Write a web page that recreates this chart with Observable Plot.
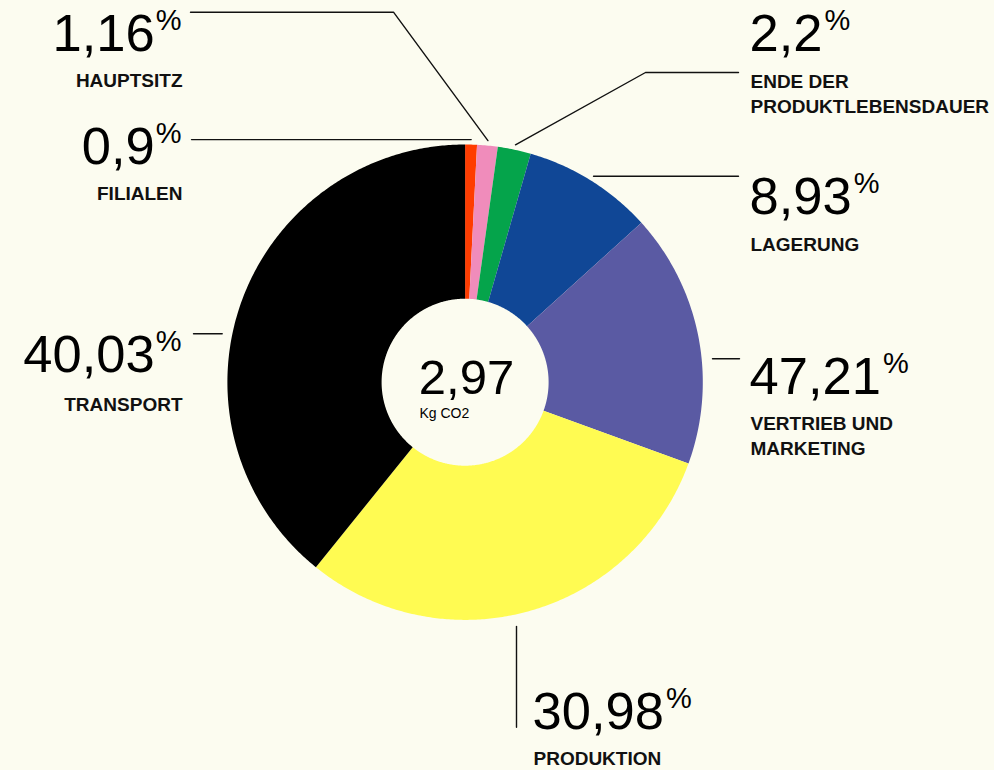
<!DOCTYPE html>
<html><head><meta charset="utf-8">
<script src="https://cdn.jsdelivr.net/npm/d3@7"></script>
<script src="https://cdn.jsdelivr.net/npm/@observablehq/plot@0.6"></script>
<style>
html,body{margin:0;padding:0;background:#FCFCF0;}
#chart{width:994px;height:770px;overflow:hidden;}
</style></head><body><div id="chart"></div>
<script>
// ---- data ----
const categories = ["Filialen","Hauptsitz","Ende der Produktlebensdauer","Lagerung","Vertrieb und Marketing","Produktion","Transport"];
const labelTexts = ["FILIALEN","HAUPTSITZ","ENDE DER\nPRODUKTLEBENSDAUER","LAGERUNG","VERTRIEB UND\nMARKETING","PRODUKTION","TRANSPORT"];
const printedValues = ["0,9","1,16","2,2","8,93","47,21","30,98","40,03"];
const sliceShares = [0.8, 1.4, 2.25, 8.85, 17.25, 30.25, 39.2];
const colors = ["#FF3C00","#F08CBB","#05A44B","#104796","#5A5AA3","#FFFB52","#000000"];
const totalValue = "2,97";
const totalUnit = "Kg CO2";

// ---- layout ----
const W = 994, H = 770;
const FONT = "Liberation Sans, Arial, Helvetica, sans-serif";
const NUM_FS = 52.5, PCT_FS = 29, LAB_FS = 19;
const pie = {cx: 464.6, cy: 381.7, R: 237.7, r: 83.5};
const labelLayout = [
  {side: "left",  x: 181, numBase: 163,   labBase: 199},
  {side: "left",  x: 181, numBase: 50,    labBase: 86.5},
  {side: "right", x: 749, numBase: 50,    labBase: 87},
  {side: "right", x: 749, numBase: 213,   labBase: 250},
  {side: "right", x: 749, numBase: 393.3, labBase: 429.3},
  {side: "right", x: 532, numBase: 728.3, labBase: 764},
  {side: "left",  x: 181, numBase: 371.7, labBase: 410}
];
const LAB_LH = 25;

const polar = (a, rad) => ({x: pie.cx + rad * Math.sin(a), y: pie.cy - rad * Math.cos(a)});
const total = d3.sum(sliceShares);
let acc = 0;
const slices = categories.map((c, i) => {
  const a0 = acc / total * 2 * Math.PI; acc += sliceShares[i];
  const a1 = acc / total * 2 * Math.PI;
  return {c, i, a0, a1, mid: (a0 + a1) / 2};
});
const slicePts = slices.flatMap(s => {
  const n = Math.max(2, Math.ceil((s.a1 - s.a0) / (Math.PI / 360)));
  const pts = [];
  for (let k = 0; k <= n; k++) pts.push({key: s.c, ...polar(s.a0 + (s.a1 - s.a0) * k / n, pie.R)});
  for (let k = n; k >= 0; k--) pts.push({key: s.c, ...polar(s.a0 + (s.a1 - s.a0) * k / n, pie.r)});
  return pts;
});

// leader lines
const st = i => polar(slices[i].mid, pie.R + 5);
const leaders = [
  [st(0), {x: 191, y: st(0).y}],
  [st(1), {x: 393, y: 11.7}, {x: 190, y: 11.7}],
  [st(2), {x: 645, y: 72}, {x: 738, y: 72}],
  [st(3), {x: 738, y: st(3).y}],
  [{x: 712, y: 358.3}, {x: 739, y: 358.3}],
  [{x: 516, y: 626}, {x: 516, y: 726.7}],
  [{x: 193, y: 333.3}, {x: 221.7, y: 333.3}]
].flatMap((pts, id) => pts.map(p => ({...p, id})));

// text measuring
const ctx = document.createElement("canvas").getContext("2d");
const measure = (t, fs, w = "normal") => { ctx.font = `${w} ${fs}px ${FONT}`; return ctx.measureText(t).width; };
const pctW = measure("%", PCT_FS);

const labels = slices.map((s, i) => {
  const L = labelLayout[i];
  const numW = measure(printedValues[i], NUM_FS);
  const nLines = labelTexts[i].split("\n").length;
  return {
    side: L.side,
    num: printedValues[i],
    numX: L.side === "left" ? L.x - pctW - 1 : L.x,
    numY: L.numBase,
    pctX: L.side === "left" ? L.x : L.x + numW + 2,
    pctY: L.numBase - 21,
    lab: labelTexts[i],
    labX: L.side === "left" ? L.x + 1 : L.x + 1,
    labY: L.labBase + (nLines - 1) * LAB_LH
  };
});
const left = labels.filter(d => d.side === "left");
const right = labels.filter(d => d.side === "right");

const chart = Plot.plot({
  width: W, height: H, margin: 0,
  x: {type: "identity", axis: null},
  y: {type: "identity", axis: null},
  color: {domain: categories, range: colors},
  style: {background: "#FCFCF0", fontFamily: FONT, color: "#000"},
  marks: [
    Plot.line(slicePts, {x: "x", y: "y", z: "key", fill: "key", stroke: "none", curve: "linear-closed"}),
    Plot.line(leaders, {x: "x", y: "y", z: "id", stroke: "#111", strokeWidth: 1.4}),
    // center
    Plot.text([{t: totalValue, x: 466, y: 393.3}], {x: "x", y: "y", text: "t", fontSize: 49, textAnchor: "middle", lineAnchor: "bottom", fill: "#000"}),
    Plot.text([{t: totalUnit, x: 419, y: 417}], {x: "x", y: "y", text: "t", fontSize: 14, textAnchor: "start", lineAnchor: "bottom", fill: "#000"}),
    // numbers
    Plot.text(left, {x: "numX", y: "numY", text: "num", fontSize: NUM_FS, textAnchor: "end", lineAnchor: "bottom", fill: "#000"}),
    Plot.text(right, {x: "numX", y: "numY", text: "num", fontSize: NUM_FS, textAnchor: "start", lineAnchor: "bottom", fill: "#000"}),
    Plot.text(left, {x: "pctX", y: "pctY", text: () => "%", fontSize: PCT_FS, textAnchor: "end", lineAnchor: "bottom", fill: "#000"}),
    Plot.text(right, {x: "pctX", y: "pctY", text: () => "%", fontSize: PCT_FS, textAnchor: "start", lineAnchor: "bottom", fill: "#000"}),
    // category labels
    Plot.text(left, {x: "labX", y: "labY", text: "lab", fontSize: LAB_FS, fontWeight: "bold", textAnchor: "end", lineAnchor: "bottom", lineHeight: LAB_LH / LAB_FS, fill: "#111"}),
    Plot.text(right, {x: "labX", y: "labY", text: "lab", fontSize: LAB_FS, fontWeight: "bold", textAnchor: "start", lineAnchor: "bottom", lineHeight: LAB_LH / LAB_FS, fill: "#111"})
  ]
});
document.getElementById("chart").appendChild(chart);
</script>
</body></html>
